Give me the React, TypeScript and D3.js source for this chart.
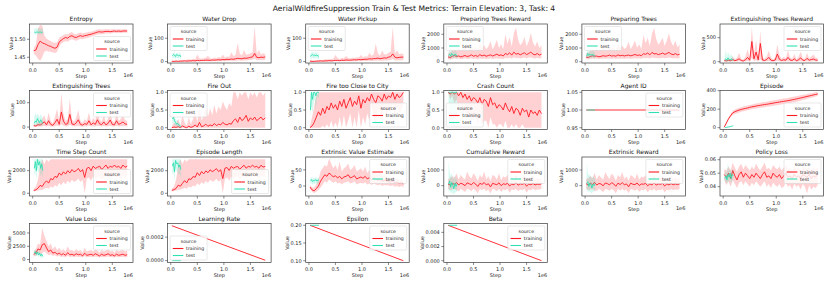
import React from 'react';
import * as d3 from 'd3';

const W = 831, H = 283;
const RED = '#ff1a22';
const TEAL = '#2fe0b2';
const FONT = '"DejaVu Sans", sans-serif';
const X_DOMAIN: [number, number] = [-0.06, 1.89];
const xTicks = [0, 0.5, 1.0, 1.5];
const xTickLabels = ['0.0', '0.5', '1.0', '1.5'];

// steps in units of 1e6
const trainSteps = [0.02,0.06,0.10,0.14,0.18,0.22,0.26,0.30,0.34,0.38,0.42,0.46,0.50,0.54,0.58,0.62,0.66,0.70,0.74,0.78,0.82,0.86,0.90,0.94,0.98,1.02,1.06,1.10,1.14,1.18,1.22,1.26,1.30,1.34,1.38,1.42,1.46,1.50,1.54,1.58,1.62,1.66,1.70,1.74,1.78];
const testSteps = [0.03,0.05,0.07,0.09,0.11,0.13,0.15,0.17,0.19];
const trainEnds = [0.02, 1.78];
const testEnds = [0.03, 0.19];

// Entropy
const entropyTrain = [1.468,1.470,1.485,1.495,1.490,1.488,1.485,1.482,1.480,1.477,1.475,1.478,1.492,1.498,1.502,1.505,1.503,1.508,1.510,1.506,1.505,1.508,1.510,1.508,1.510,1.511,1.513,1.514,1.516,1.518,1.520,1.521,1.520,1.521,1.522,1.522,1.521,1.522,1.523,1.522,1.523,1.522,1.523,1.523,1.523];
const entropyTrainLo = [1.460,1.455,1.445,1.440,1.450,1.465,1.468,1.466,1.465,1.463,1.462,1.465,1.480,1.488,1.492,1.495,1.493,1.498,1.500,1.497,1.496,1.499,1.501,1.500,1.502,1.503,1.505,1.507,1.509,1.511,1.513,1.514,1.514,1.515,1.516,1.516,1.516,1.517,1.518,1.517,1.518,1.517,1.518,1.518,1.518];
const entropyTrainHi = [1.476,1.485,1.530,1.540,1.538,1.510,1.502,1.498,1.495,1.492,1.490,1.492,1.505,1.508,1.512,1.515,1.513,1.518,1.520,1.515,1.514,1.517,1.519,1.517,1.518,1.519,1.521,1.521,1.523,1.525,1.527,1.528,1.527,1.527,1.528,1.528,1.527,1.528,1.528,1.527,1.528,1.527,1.528,1.528,1.528];
const entropyTest = [1.520,1.519,1.520,1.520,1.519,1.520,1.520,1.519,1.520];
const entropyTestLo = [1.513,1.513,1.513,1.513,1.513,1.513,1.513,1.513,1.513];
const entropyTestHi = [1.530,1.530,1.530,1.530,1.530,1.530,1.530,1.530,1.530];

// Water Drop
const waterDropTrain = [1,1,2,1,2,2,3,2,3,3,4,3,5,4,5,5,6,6,5,7,6,7,8,7,9,8,10,9,11,10,12,14,13,12,15,14,16,18,20,35,18,17,19,18,20];
const waterDropTrainHi = [4,3,5,4,6,8,6,9,10,8,12,10,30,14,12,14,16,25,14,12,18,14,20,16,30,18,22,20,40,24,28,80,35,26,50,30,32,36,40,150,34,50,30,36,32];
const waterDropTrainLo = [0,0,0,0,0,0,0,0,0,0,1,0,1,1,1,1,2,1,1,2,1,2,2,2,3,2,3,3,4,3,4,5,5,4,5,5,6,7,8,12,6,6,7,6,7];
const waterDropTest = [25,30,28,22,30,27,25,28,20];
const waterDropTestHi = [35,40,38,32,40,36,35,38,30];
const waterDropTestLo = [12,15,16,10,18,14,12,15,10];

// Water Pickup
const waterPickupTrain = [2,1,1,2,2,3,2,3,3,4,3,4,5,5,4,6,5,7,6,6,7,8,7,9,8,9,10,10,12,11,13,13,15,12,14,16,15,19,21,33,19,16,18,19,19];
const waterPickupTrainHi = [5,4,4,5,7,8,7,10,9,10,11,12,28,15,11,15,14,24,16,13,17,15,19,18,28,19,23,21,38,25,30,78,36,25,48,32,30,38,42,148,35,48,32,35,33];
const waterPickupTrainLo = [0,0,0,0,0,0,0,0,0,1,0,1,1,1,1,1,1,2,1,1,2,2,2,3,2,3,3,3,4,3,4,4,5,4,4,5,5,6,7,11,6,5,6,6,6];
const waterPickupTest = [22,28,30,25,28,26,27,25,22];
const waterPickupTestHi = [34,40,42,36,40,38,38,36,32];
const waterPickupTestLo = [10,14,16,12,15,13,14,12,10];

// Preparing Trees Reward
const prepRewardTrain = [350,300,400,450,380,420,350,400,450,380,420,500,400,450,380,520,420,480,400,450,500,420,480,550,450,500,420,600,520,650,480,700,550,600,500,580,650,520,600,700,550,500,600,480,550];
const prepRewardTrainHi = [600,700,800,900,800,1000,800,900,1200,800,1000,1300,900,1100,800,1400,1000,1200,900,1100,1500,900,1200,1600,1000,1300,900,2000,1300,1800,1100,2100,2500,1600,1200,1400,1800,1100,1500,2100,1400,1100,1500,1000,1200];
const prepRewardTrainLo = [200,150,200,250,200,250,180,200,250,200,220,250,200,240,180,250,200,230,200,220,250,200,230,260,220,240,200,280,240,300,220,320,260,280,240,270,300,250,280,320,260,240,280,230,260];
const prepRewardTest = [450,550,400,600,500,450,550,500,400];
const prepRewardTestHi = [700,900,650,850,750,700,850,750,650];
const prepRewardTestLo = [250,300,200,350,280,250,300,280,200];

// Preparing Trees
const prepTreesTrain = [330,310,380,430,400,410,360,390,440,400,430,480,410,440,400,500,430,470,420,460,480,430,470,530,460,490,440,580,540,630,500,680,570,590,520,560,630,540,590,680,560,510,590,500,540];
const prepTreesTrainHi = [620,680,780,880,820,950,820,880,1150,830,980,1250,920,1080,820,1350,1020,1180,920,1080,1450,920,1180,1550,1020,1280,920,1950,1350,1750,1150,2050,2450,1650,1250,1450,1750,1150,1550,2050,1450,1150,1550,1050,1250];
const prepTreesTrainLo = [190,160,210,240,210,240,190,210,240,210,230,240,210,230,190,240,210,240,210,230,240,210,240,250,230,250,210,290,250,290,230,310,270,270,250,260,290,260,270,310,270,250,270,240,250];
const prepTreesTest = [400,600,450,550,480,500,520,450,420];
const prepTreesTestHi = [650,900,700,850,750,780,800,700,680];
const prepTreesTestLo = [200,350,220,300,260,280,300,250,220];

// Extinguishing Trees Reward
const extRewardTrain = [25,15,30,20,45,20,35,60,25,15,40,90,30,420,60,200,40,380,35,25,45,90,30,20,35,160,50,25,40,30,90,35,25,60,20,40,80,30,25,70,30,45,55,35,30];
const extRewardTrainHi = [60,40,70,50,110,50,80,180,60,40,110,260,70,720,160,450,100,640,90,60,110,230,80,50,90,360,140,60,100,70,240,90,60,160,50,100,210,70,60,180,70,110,150,90,70];
const extRewardTrainLo = [5,2,5,3,8,3,6,10,4,2,7,15,5,80,10,30,6,50,5,3,7,15,5,3,5,20,8,3,6,4,12,5,3,8,2,6,10,4,3,10,4,6,8,5,4];
const extRewardTest = [40,60,30,80,50,40,60,45,35];
const extRewardTestHi = [120,250,90,200,150,110,160,120,90];
const extRewardTestLo = [5,10,5,15,8,5,10,8,5];

// Extinguishing Trees
const extTreesTrain = [6,4,10,8,14,22,9,26,11,7,18,32,11,62,24,11,14,52,13,10,17,30,11,8,14,11,26,9,17,11,30,13,10,21,9,15,29,11,9,26,11,15,21,13,11];
const extTreesTrainHi = [14,10,22,18,32,50,20,60,25,16,42,75,25,140,55,25,32,115,30,22,38,70,25,18,32,25,60,20,38,25,70,30,22,48,20,34,66,25,20,60,25,34,48,30,25];
const extTreesTrainLo = [1,1,2,2,3,4,2,5,2,1,3,6,2,12,5,2,3,9,3,2,3,5,2,1,3,2,5,2,3,2,5,3,2,4,2,3,5,2,2,5,2,3,4,3,2];
const extTreesTest = [15,25,20,35,25,18,30,22,15];
const extTreesTestHi = [40,60,45,55,50,40,55,45,35];
const extTreesTestLo = [5,8,5,10,8,5,10,6,4];

// Fire Out
const fireOutTrain = [0.0,0.02,0.01,0.03,0.0,0.05,0.02,0.0,0.04,0.01,0.03,0.08,0.02,0.15,0.03,0.05,0.10,0.04,0.08,0.05,0.12,0.06,0.10,0.08,0.15,0.10,0.08,0.12,0.10,0.20,0.25,0.15,0.30,0.20,0.25,0.35,0.18,0.28,0.22,0.30,0.20,0.25,0.30,0.22,0.28];
const fireOutTrainHi = [0.05,0.15,0.10,0.25,0.05,0.35,0.15,0.05,0.30,0.10,0.25,0.50,0.15,0.70,0.20,0.35,0.60,0.30,0.55,0.35,0.65,0.40,0.60,0.50,0.75,0.60,0.50,0.70,0.60,1.0,1.0,0.80,1.0,0.90,1.0,1.0,0.80,1.0,0.90,1.0,0.85,1.0,1.0,0.90,1.0];
const fireOutTrainLo = [0,0,0,0,0,0,0,0,0,0,0,0,0,0,0,0,0,0,0,0,0,0,0,0,0,0,0,0,0,0,0,0,0,0,0,0,0,0,0,0,0,0,0,0,0];
const fireOutTest = [0.25,0.30,0.20,0.15,0.10,0.12,0.08,0.05,0.03];
const fireOutTestHi = [0.35,0.40,0.30,0.25,0.20,0.22,0.15,0.10,0.08];
const fireOutTestLo = [0.10,0.15,0.08,0.05,0.02,0.03,0.0,0.0,0.0];

// Fire too Close to City
const fireCityTrain = [0.0,0.05,0.15,0.30,0.45,0.35,0.55,0.40,0.60,0.50,0.70,0.55,0.65,0.50,0.75,0.60,0.80,0.55,0.70,0.85,0.60,0.75,0.65,0.90,0.55,0.80,0.70,0.85,0.75,0.95,0.80,0.70,0.90,0.85,0.75,0.95,0.80,0.90,0.85,1.0,0.80,0.95,0.85,0.90,1.0];
const fireCityTrainHi = [0.05,0.30,0.60,0.90,1.0,1.0,1.0,1.0,1.0,1.0,1.0,1.0,1.0,1.0,1.0,1.0,1.0,1.0,1.0,1.0,1.0,1.0,1.0,1.0,1.0,1.0,1.0,1.0,1.0,1.0,1.0,1.0,1.0,1.0,1.0,1.0,1.0,1.0,1.0,1.0,1.0,1.0,1.0,1.0,1.0];
const fireCityTrainLo = [0,0,0,0,0,0,0.05,0,0.1,0,0.2,0,0.15,0,0.3,0,0.35,0,0.2,0.4,0,0.3,0,0.5,0,0.3,0.1,0.4,0.2,0.6,0.3,0.1,0.5,0.4,0.2,0.6,0.3,0.5,0.4,0.7,0.3,0.6,0.4,0.5,0.7];
const fireCityTest = [0.5,1.0,0.8,1.0,1.0,0.9,1.0,1.0,1.0];
const fireCityTestHi = [1.0,1.0,1.0,1.0,1.0,1.0,1.0,1.0,1.0];
const fireCityTestLo = [0.3,0.6,0.4,0.7,0.8,0.5,0.8,0.9,0.8];

// Crash Count
const crashTrain = [1.0,0.95,1.0,0.95,1.0,0.90,1.0,0.85,0.95,0.80,0.90,0.75,0.85,0.80,0.70,0.85,0.65,0.80,0.75,0.60,0.85,0.65,0.70,0.55,0.65,0.60,0.50,0.70,0.55,0.45,0.60,0.40,0.55,0.50,0.35,0.55,0.45,0.50,0.30,0.50,0.40,0.45,0.35,0.50,0.40];
const crashTrainHi = [1,1,1,1,1,1,1,1,1,1,1,1,1,1,1,1,1,1,1,1,1,1,1,1,1,1,1,1,1,1,1,1,1,1,1,1,1,1,1,1,1,1,1,1,1];
const crashTrainLo = [1.0,0.8,0.9,0.7,0.8,0.5,0.7,0.4,0.5,0.3,0.4,0.2,0.3,0.3,0.1,0.3,0.1,0.2,0.2,0.0,0.3,0.1,0.1,0.0,0.1,0.1,0.0,0.2,0.0,0.0,0.1,0.0,0.1,0.0,0.0,0.1,0.0,0.0,0.0,0.0,0.0,0.0,0.0,0.0,0.0];
const crashTest = [1,1,1,1,1,1,1,1,1];
const crashTestHi = [1,1,1,1,1,1,1,1,1];
const crashTestLo = [0.5,0.0,0.3,0.0,0.2,0.0,0.4,0.1,0.5];

// Agent ID
const agentTrain = [1.0, 1.0];
const agentTest = [1.0, 1.0];

// Episode
const episodeTrain = [5,50,95,130,160,172,182,190,197,203,208,213,220,225,229,234,238,242,246,250,253,257,261,265,270,273,277,281,285,288,292,296,301,306,311,316,321,327,332,338,343,348,354,359,364];
const episodeTrainHi = [8,58,108,148,182,196,207,215,222,228,234,239,246,251,256,261,265,270,274,278,281,286,290,294,299,303,307,311,315,318,322,326,331,336,341,346,351,356,360,365,369,373,378,382,386];
const episodeTrainLo = [2,42,82,112,138,148,157,165,172,178,182,187,194,199,202,207,211,214,218,222,225,228,232,236,241,243,247,251,255,258,262,266,271,276,281,286,291,298,304,311,317,323,330,336,342];
const episodeTest = [0,2,4,6,8,11,14,17,20];

// Time Step Count
const tscTrain = [250,300,450,700,600,900,1100,900,1300,1200,1500,1400,1800,1600,1900,1700,2000,1800,2100,1900,2000,2200,1900,2100,1400,2200,2300,2000,2400,2200,2300,2400,2100,2300,2500,2200,2400,2300,2500,2300,2400,2200,2500,2300,2400];
const tscTrainHi = [400,600,1200,2500,3000,2600,3000,2800,3000,3000,3000,3000,3000,3000,3000,3000,3000,3000,3000,3000,3000,3000,3000,3000,3000,3000,3000,3000,3000,3000,3000,3000,3000,3000,3000,3000,3000,3000,3000,3000,3000,3000,3000,3000,3000];
const tscTrainLo = [150,200,250,300,300,400,500,400,600,500,700,600,900,700,1000,800,1100,900,1200,1000,1100,1300,1000,1200,0,1300,1400,1100,1500,1300,1400,1500,1200,1400,1600,1300,1500,1400,1600,1400,1500,1300,1600,1400,1500];
const tscTest = [2200,2800,2000,3000,2500,2800,2200,2600,2000];
const tscTestHi = [3000,3000,3000,3000,3000,3000,3000,3000,3000];
const tscTestLo = [1500,2000,1200,2200,1800,2000,1500,1800,1200];

// Episode Length
const epLenTrain = [260,320,430,720,620,880,1120,920,1280,1220,1480,1420,1820,1580,1920,1720,1980,1820,2080,1920,2020,2180,1920,2080,1300,2220,2280,2020,2380,2220,2320,2380,2120,2320,2480,2220,2380,2320,2480,2320,2380,2220,2480,2320,2380];
const epLenTrainHi = [400,600,1200,2500,3000,2600,3000,2800,3000,3000,3000,3000,3000,3000,3000,3000,3000,3000,3000,3000,3000,3000,3000,3000,3000,3000,3000,3000,3000,3000,3000,3000,3000,3000,3000,3000,3000,3000,3000,3000,3000,3000,3000,3000,3000];
const epLenTrainLo = [160,210,240,320,310,410,490,410,590,510,690,610,880,720,980,820,1090,910,1190,1010,1090,1290,1010,1190,0,1290,1390,1110,1490,1310,1390,1490,1210,1390,1590,1310,1490,1410,1590,1410,1490,1310,1590,1410,1490];
const epLenTest = [2400,2700,1900,2900,2600,2700,2300,2500,2100];
const epLenTestHi = [3000,3000,3000,3000,3000,3000,3000,3000,3000];
const epLenTestLo = [1600,1900,1100,2300,1900,1900,1600,1700,1300];

// Extrinsic Value Estimate
const eveTrain = [-3,-12,-15,-8,0,15,25,35,30,40,35,28,32,25,30,22,28,30,35,25,28,32,22,25,28,24,30,22,26,20,24,22,18,20,15,18,16,14,12,15,10,12,8,10,6];
const eveTrainHi = [2,-5,-5,5,20,45,55,65,60,85,70,55,65,50,75,45,55,60,70,50,55,65,45,50,55,45,60,40,50,40,45,40,35,40,30,35,30,25,22,30,20,25,18,20,14];
const eveTrainLo = [-8,-18,-22,-18,-12,-5,5,15,10,20,15,10,15,8,10,5,10,12,15,8,10,15,5,8,10,8,12,5,8,3,8,5,2,5,0,3,2,2,0,2,-2,0,-3,0,-4];
const eveTest = [15,20,14,18,16,20,15,18,19];
const eveTestHi = [25,28,22,26,24,28,23,26,27];
const eveTestLo = [5,10,4,8,6,10,5,8,10];

// Cumulative Reward
const cumTrain = [100,50,150,80,200,50,150,100,0,180,120,60,200,100,-50,150,80,200,50,120,-80,150,100,60,180,0,120,80,150,-20,100,60,180,30,120,80,150,-30,100,60,140,50,100,80,120];
const cumTrainHi = [400,500,600,500,800,400,700,500,400,900,600,450,800,600,300,700,500,900,400,600,300,700,600,400,800,350,600,500,700,300,600,400,800,350,600,500,700,300,500,400,650,400,500,400,500];
const cumTrainLo = [-200,-300,-250,-200,-300,-350,-200,-300,-400,-200,-250,-350,-200,-300,-500,-200,-300,-200,-350,-250,-500,-200,-250,-350,-200,-400,-250,-300,-200,-450,-250,-300,-200,-350,-250,-300,-200,-450,-250,-300,-200,-300,-250,-250,-200];
const cumTest = [100,300,-100,200,0,-200,150,-50,100];
const cumTestHi = [1600,900,600,800,500,400,700,400,500];
const cumTestLo = [-400,-300,-500,-400,-500,-550,-400,-450,-300];

// Extrinsic Reward
const extrTrain = [120,40,160,70,210,40,140,110,-10,170,130,50,190,110,-40,160,70,190,60,110,-70,160,90,70,170,10,110,90,140,-10,110,50,170,40,110,90,140,-20,110,50,130,60,110,70,110];
const extrTrainHi = [420,480,620,480,820,380,680,520,380,880,620,430,780,620,320,680,520,880,420,580,320,680,580,420,780,370,580,520,680,320,580,420,780,370,580,520,680,320,520,420,630,420,520,420,520];
const extrTrainLo = [-220,-280,-240,-220,-320,-330,-220,-280,-420,-210,-240,-330,-220,-290,-480,-210,-310,-210,-330,-260,-480,-210,-240,-330,-210,-390,-260,-290,-210,-440,-240,-310,-210,-340,-260,-290,-210,-440,-240,-310,-210,-290,-240,-260,-210];
const extrTest = [150,250,-50,150,50,-150,100,0,150];
const extrTestHi = [1500,850,650,700,550,450,650,450,550];
const extrTestLo = [-350,-300,-450,-350,-450,-500,-350,-400,-250];

// Policy Loss
const policyTrain = [0.049,0.047,0.050,0.046,0.052,0.048,0.045,0.049,0.051,0.047,0.050,0.048,0.046,0.049,0.047,0.050,0.048,0.046,0.049,0.051,0.047,0.048,0.046,0.050,0.048,0.047,0.049,0.046,0.048,0.050,0.047,0.048,0.046,0.049,0.047,0.048,0.046,0.049,0.048,0.047,0.049,0.046,0.048,0.047,0.049];
const policyTrainHi = [0.053,0.052,0.055,0.052,0.058,0.054,0.051,0.055,0.057,0.053,0.056,0.054,0.052,0.055,0.053,0.057,0.054,0.052,0.055,0.058,0.053,0.054,0.052,0.056,0.054,0.053,0.055,0.052,0.054,0.056,0.053,0.054,0.052,0.055,0.053,0.054,0.052,0.055,0.054,0.053,0.055,0.052,0.054,0.053,0.055];
const policyTrainLo = [0.045,0.041,0.044,0.040,0.045,0.042,0.039,0.043,0.044,0.041,0.044,0.042,0.040,0.043,0.041,0.044,0.042,0.040,0.042,0.044,0.040,0.042,0.039,0.043,0.041,0.040,0.042,0.039,0.040,0.043,0.040,0.041,0.038,0.042,0.040,0.041,0.038,0.042,0.040,0.035,0.041,0.038,0.040,0.039,0.041];
const policyTest = [0.046,0.048,0.045,0.049,0.047,0.050,0.046,0.049,0.048];
const policyTestHi = [0.050,0.052,0.050,0.058,0.052,0.054,0.050,0.053,0.052];
const policyTestLo = [0.043,0.044,0.042,0.044,0.043,0.046,0.042,0.045,0.044];

// Value Loss
const vlossTrain = [1000,1200,2000,1800,2800,3000,2200,1500,1800,1200,1400,1000,1200,900,1100,800,1300,900,1000,800,1100,900,1000,700,1200,800,900,1000,800,1100,900,700,1000,800,900,1100,800,900,700,1000,800,900,1000,800,900];
const vlossTrainHi = [1500,2000,3000,2800,6000,4500,3500,2500,3000,2000,2500,1800,2200,1600,2000,1500,2500,1700,1800,1500,2000,1600,1800,1300,2200,1500,1700,1800,1500,2000,1700,1300,1800,1500,1700,2000,1500,1700,1300,1800,1500,1700,1800,1500,1700];
const vlossTrainLo = [600,700,1000,900,1200,1500,1200,800,1000,700,800,600,700,500,600,450,700,500,600,450,600,500,550,400,650,450,500,550,450,600,500,400,550,450,500,600,450,500,400,550,450,500,550,450,500];
const vlossTest = [1200,1500,1000,1400,900,1200,700,1000,600];
const vlossTestHi = [1800,2000,1500,1900,1400,1700,1100,1400,900];
const vlossTestLo = [700,900,600,800,500,700,300,500,200];

// Learning Rate / Epsilon / Beta
const lrTrain = [0.000297, 0.000003];
const lrTest = [0.0, 0.0];
const epsTrain = [0.2, 0.1];
const epsTest = [0.2, 0.2];
const betaTrain = [0.005, 0.00001];
const betaTest = [0.005, 0.005];

type Loc = 'ul' | 'ur' | 'll' | 'lr';
interface PanelSpec {
  title: string;
  trX: number[]; tr: number[]; trHi?: number[]; trLo?: number[];
  teX: number[]; te: number[]; teHi?: number[]; teLo?: number[];
  yDomain: [number, number];
  yTicks: number[]; yLabels: string[];
  legend: Loc;
}

const panels: PanelSpec[] = [
  { title: 'Entropy', trX: trainSteps, tr: entropyTrain, trHi: entropyTrainHi, trLo: entropyTrainLo, teX: testSteps, te: entropyTest, teHi: entropyTestHi, teLo: entropyTestLo, yDomain: [1.434, 1.5425], yTicks: [1.45, 1.5], yLabels: ['1.45', '1.50'], legend: 'lr' },
  { title: 'Water Drop', trX: trainSteps, tr: waterDropTrain, trHi: waterDropTrainHi, trLo: waterDropTrainLo, teX: testSteps, te: waterDropTest, teHi: waterDropTestHi, teLo: waterDropTestLo, yDomain: [-6, 161], yTicks: [0, 100], yLabels: ['0', '100'], legend: 'ul' },
  { title: 'Water Pickup', trX: trainSteps, tr: waterPickupTrain, trHi: waterPickupTrainHi, trLo: waterPickupTrainLo, teX: testSteps, te: waterPickupTest, teHi: waterPickupTestHi, teLo: waterPickupTestLo, yDomain: [-6, 161], yTicks: [0, 100], yLabels: ['0', '100'], legend: 'ul' },
  { title: 'Preparing Trees Reward', trX: trainSteps, tr: prepRewardTrain, trHi: prepRewardTrainHi, trLo: prepRewardTrainLo, teX: testSteps, te: prepRewardTest, teHi: prepRewardTestHi, teLo: prepRewardTestLo, yDomain: [-95, 2750], yTicks: [0, 1000, 2000], yLabels: ['0', '1000', '2000'], legend: 'ul' },
  { title: 'Preparing Trees', trX: trainSteps, tr: prepTreesTrain, trHi: prepTreesTrainHi, trLo: prepTreesTrainLo, teX: testSteps, te: prepTreesTest, teHi: prepTreesTestHi, teLo: prepTreesTestLo, yDomain: [-95, 2750], yTicks: [0, 1000, 2000], yLabels: ['0', '1000', '2000'], legend: 'ul' },
  { title: 'Extinguishing Trees Reward', trX: trainSteps, tr: extRewardTrain, trHi: extRewardTrainHi, trLo: extRewardTrainLo, teX: testSteps, te: extRewardTest, teHi: extRewardTestHi, teLo: extRewardTestLo, yDomain: [-27, 785], yTicks: [0, 500], yLabels: ['0', '500'], legend: 'ur' },
  { title: 'Extinguishing Trees', trX: trainSteps, tr: extTreesTrain, trHi: extTreesTrainHi, trLo: extTreesTrainLo, teX: testSteps, te: extTreesTest, teHi: extTreesTestHi, teLo: extTreesTestLo, yDomain: [-10, 150], yTicks: [0, 100], yLabels: ['0', '100'], legend: 'ur' },
  { title: 'Fire Out', trX: trainSteps, tr: fireOutTrain, trHi: fireOutTrainHi, trLo: fireOutTrainLo, teX: testSteps, te: fireOutTest, teHi: fireOutTestHi, teLo: fireOutTestLo, yDomain: [-0.05, 1.05], yTicks: [0, 0.5, 1], yLabels: ['0.0', '0.5', '1.0'], legend: 'ul' },
  { title: 'Fire too Close to City', trX: trainSteps, tr: fireCityTrain, trHi: fireCityTrainHi, trLo: fireCityTrainLo, teX: testSteps, te: fireCityTest, teHi: fireCityTestHi, teLo: fireCityTestLo, yDomain: [-0.05, 1.05], yTicks: [0, 0.5, 1], yLabels: ['0.0', '0.5', '1.0'], legend: 'lr' },
  { title: 'Crash Count', trX: trainSteps, tr: crashTrain, trHi: crashTrainHi, trLo: crashTrainLo, teX: testSteps, te: crashTest, teHi: crashTestHi, teLo: crashTestLo, yDomain: [-0.05, 1.05], yTicks: [0, 0.5, 1], yLabels: ['0.0', '0.5', '1.0'], legend: 'll' },
  { title: 'Agent ID', trX: trainEnds, tr: agentTrain, teX: testEnds, te: agentTest, yDomain: [0.945, 1.055], yTicks: [0.95, 1.0, 1.05], yLabels: ['0.95', '1.00', '1.05'], legend: 'ur' },
  { title: 'Episode', trX: trainSteps, tr: episodeTrain, trHi: episodeTrainHi, trLo: episodeTrainLo, teX: testSteps, te: episodeTest, yDomain: [-20, 402], yTicks: [0, 200, 400], yLabels: ['0', '200', '400'], legend: 'lr' },
  { title: 'Time Step Count', trX: trainSteps, tr: tscTrain, trHi: tscTrainHi, trLo: tscTrainLo, teX: testSteps, te: tscTest, teHi: tscTestHi, teLo: tscTestLo, yDomain: [-240, 3210], yTicks: [0, 2000], yLabels: ['0', '2000'], legend: 'lr' },
  { title: 'Episode Length', trX: trainSteps, tr: epLenTrain, trHi: epLenTrainHi, trLo: epLenTrainLo, teX: testSteps, te: epLenTest, teHi: epLenTestHi, teLo: epLenTestLo, yDomain: [-240, 3210], yTicks: [0, 2000], yLabels: ['0', '2000'], legend: 'lr' },
  { title: 'Extrinsic Value Estimate', trX: trainSteps, tr: eveTrain, trHi: eveTrainHi, trLo: eveTrainLo, teX: testSteps, te: eveTest, teHi: eveTestHi, teLo: eveTestLo, yDomain: [-31, 90], yTicks: [0, 50], yLabels: ['0', '50'], legend: 'ur' },
  { title: 'Cumulative Reward', trX: trainSteps, tr: cumTrain, trHi: cumTrainHi, trLo: cumTrainLo, teX: testSteps, te: cumTest, teHi: cumTestHi, teLo: cumTestLo, yDomain: [-660, 1830], yTicks: [0, 1000], yLabels: ['0', '1000'], legend: 'ur' },
  { title: 'Extrinsic Reward', trX: trainSteps, tr: extrTrain, trHi: extrTrainHi, trLo: extrTrainLo, teX: testSteps, te: extrTest, teHi: extrTestHi, teLo: extrTestLo, yDomain: [-660, 1830], yTicks: [0, 1000], yLabels: ['0', '1000'], legend: 'ur' },
  { title: 'Policy Loss', trX: trainSteps, tr: policyTrain, trHi: policyTrainHi, trLo: policyTrainLo, teX: testSteps, te: policyTest, teHi: policyTestHi, teLo: policyTestLo, yDomain: [0.0331, 0.062], yTicks: [0.04, 0.05, 0.06], yLabels: ['0.04', '0.05', '0.06'], legend: 'ur' },
  { title: 'Value Loss', trX: trainSteps, tr: vlossTrain, trHi: vlossTrainHi, trLo: vlossTrainLo, teX: testSteps, te: vlossTest, teHi: vlossTestHi, teLo: vlossTestLo, yDomain: [-550, 6780], yTicks: [0, 2500, 5000], yLabels: ['0', '2500', '5000'], legend: 'ur' },
  { title: 'Learning Rate', trX: trainEnds, tr: lrTrain, teX: testEnds, te: lrTest, yDomain: [-0.000016, 0.000316], yTicks: [0, 0.0002], yLabels: ['0.0000', '0.0002'], legend: 'll' },
  { title: 'Epsilon', trX: trainEnds, tr: epsTrain, teX: testEnds, te: epsTest, yDomain: [0.095, 0.205], yTicks: [0.1, 0.15, 0.2], yLabels: ['0.10', '0.15', '0.20'], legend: 'ur' },
  { title: 'Beta', trX: trainEnds, tr: betaTrain, teX: testEnds, te: betaTest, yDomain: [-0.00025, 0.00525], yTicks: [0, 0.002, 0.004], yLabels: ['0.000', '0.002', '0.004'], legend: 'ur' },
];

const AX_LEFT0 = 29.5, COL_STEP = 138.1, AX_TOP0 = 24, ROW_STEP = 66.5, AX_W = 103.5, AX_H = 39;
const TICK_FS = 5, LABEL_FS = 5, TITLE_FS = 6, LEG_FS = 4.7;
const SPINE = '#3a3a3a';

function textW(s: string, fs: number) {
  let w = 0;
  for (const c of s) w += c === '.' ? 0.318 : 0.636;
  return w * fs;
}

function Legend({ loc, left, top }: { loc: Loc; left: number; top: number }) {
  const lw = 37, lh = 24, inset = 2.5;
  const lx = loc === 'ul' || loc === 'll' ? left + inset : left + AX_W - inset - lw;
  const ly = loc === 'ul' || loc === 'ur' ? top + inset : top + AX_H - inset - lh;
  return (
    <g>
      <rect x={lx} y={ly} width={lw} height={lh} rx={1.2} fill="white" fillOpacity={0.8} stroke="#d0d0d0" strokeWidth={0.5} />
      <text x={lx + lw / 2} y={ly + 6.6} fontSize={LEG_FS} textAnchor="middle" fill="#222" fontFamily={FONT}>source</text>
      <line x1={lx + 2.7} x2={lx + 13.3} y1={ly + 12.5} y2={ly + 12.5} stroke={RED} strokeWidth={1.1} />
      <text x={lx + 16} y={ly + 14.2} fontSize={LEG_FS} fill="#222" fontFamily={FONT}>training</text>
      <line x1={lx + 2.7} x2={lx + 13.3} y1={ly + 19.5} y2={ly + 19.5} stroke={TEAL} strokeWidth={1.1} />
      <text x={lx + 16} y={ly + 21.2} fontSize={LEG_FS} fill="#222" fontFamily={FONT}>test</text>
    </g>
  );
}

function Panel({ p, idx }: { p: PanelSpec; idx: number }) {
  const col = idx % 6, row = Math.floor(idx / 6);
  const left = AX_LEFT0 + col * COL_STEP;
  const top = AX_TOP0 + row * ROW_STEP;
  const x = d3.scaleLinear().domain(X_DOMAIN).range([left, left + AX_W]);
  const y = d3.scaleLinear().domain(p.yDomain).range([top + AX_H, top]);
  const mkLine = (xs: number[]) => d3.line<number>().x((_, i) => x(xs[i])).y((v) => y(v));
  const mkArea = (xs: number[], lo: number[]) =>
    d3.area<number>().x((_, i) => x(xs[i])).y0((_, i) => y(lo[i])).y1((v) => y(v));
  const clipId = `clip${idx}`;
  const maxLab = Math.max(...p.yLabels.map((s) => textW(s, TICK_FS)));
  const yLabX = left - 2.5 - 1.5 - maxLab - 1.8;
  return (
    <g>
      <defs>
        <clipPath id={clipId}><rect x={left} y={top} width={AX_W} height={AX_H} /></clipPath>
      </defs>
      <g clipPath={`url(#${clipId})`}>
        {p.trHi && p.trLo && (
          <path d={mkArea(p.trX, p.trLo)(p.trHi) || ''} fill={RED} fillOpacity={0.2} stroke="none" />
        )}
        <path d={mkLine(p.trX)(p.tr) || ''} fill="none" stroke={RED} strokeWidth={0.9} strokeLinejoin="round" />
        {p.teHi && p.teLo && (
          <path d={mkArea(p.teX, p.teLo)(p.teHi) || ''} fill={TEAL} fillOpacity={0.2} stroke="none" />
        )}
        <path d={mkLine(p.teX)(p.te) || ''} fill="none" stroke={TEAL} strokeWidth={0.9} strokeLinejoin="round" />
      </g>
      <rect x={left} y={top} width={AX_W} height={AX_H} fill="none" stroke={SPINE} strokeWidth={0.7} />
      {xTicks.map((t, i) => (
        <g key={'x' + i}>
          <line x1={x(t)} x2={x(t)} y1={top + AX_H} y2={top + AX_H + 2.5} stroke={SPINE} strokeWidth={0.6} />
          <text x={x(t)} y={top + AX_H + 8.6} fontSize={TICK_FS} textAnchor="middle" fill="#222" fontFamily={FONT}>{xTickLabels[i]}</text>
        </g>
      ))}
      {p.yTicks.map((t, i) => (
        <g key={'y' + i}>
          <line x1={left - 2.5} x2={left} y1={y(t)} y2={y(t)} stroke={SPINE} strokeWidth={0.6} />
          <text x={left - 4} y={y(t) + 1.8} fontSize={TICK_FS} textAnchor="end" fill="#222" fontFamily={FONT}>{p.yLabels[i]}</text>
        </g>
      ))}
      <text x={left + AX_W / 2} y={top + AX_H + 14.5} fontSize={LABEL_FS} textAnchor="middle" fill="#222" fontFamily={FONT}>Step</text>
      <text x={left + AX_W} y={top + AX_H + 14.2} fontSize={TICK_FS} textAnchor="end" fill="#222" fontFamily={FONT}>1e6</text>
      <text transform={`translate(${yLabX},${top + AX_H / 2}) rotate(-90)`} fontSize={LABEL_FS} textAnchor="middle" fill="#222" fontFamily={FONT}>Value</text>
      <text x={left + AX_W / 2} y={top - 3} fontSize={TITLE_FS} textAnchor="middle" fill="#111" fontFamily={FONT}>{p.title}</text>
      <Legend loc={p.legend} left={left} top={top} />
    </g>
  );
}

export default function App() {
  return (
    <svg width={W} height={H} viewBox={`0 0 ${W} ${H}`} style={{ position: 'absolute', left: 0, top: 0, background: 'white' }}>
      <rect x={0} y={0} width={W} height={H} fill="white" />
      <text x={414} y={11} fontSize={7.6} textAnchor="middle" fill="#111" fontFamily={FONT}>
        AerialWildfireSuppression Train &amp; Test Metrics: Terrain Elevation: 3, Task: 4
      </text>
      {panels.map((p, i) => <Panel key={i} p={p} idx={i} />)}
    </svg>
  );
}
